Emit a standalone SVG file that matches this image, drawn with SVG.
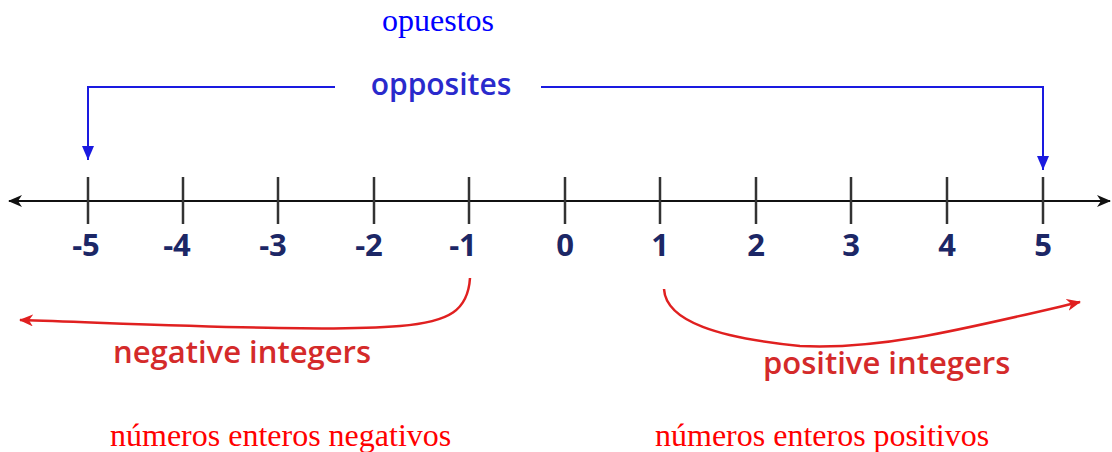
<svg xmlns="http://www.w3.org/2000/svg" width="1112" height="452" viewBox="0 0 1112 452">
<defs>
<marker id="ah" markerWidth="14" markerHeight="12" refX="13" refY="6" orient="auto-start-reverse" markerUnits="userSpaceOnUse"><path d="M0,0 L14,6 L0,12 L4,6 Z" fill="#111"/></marker>
<marker id="bh" markerWidth="14" markerHeight="14" refX="14" refY="6" orient="auto" markerUnits="userSpaceOnUse"><path d="M0,0 L14,6 L0,12 Z" fill="#1a1ae0"/></marker>
<marker id="rh" markerWidth="14" markerHeight="12" refX="13" refY="6" orient="auto" markerUnits="userSpaceOnUse"><path d="M0,0 L14,6 L0,12 L4,6 Z" fill="#e02020"/></marker>
</defs>
<style>
.tick{stroke:#333;stroke-width:2.5}
.num{font-family:"Open Sans",sans-serif;font-weight:bold;font-size:31px;fill:#1c2766;text-anchor:middle}
.en{font-family:"Open Sans",sans-serif;font-weight:600;fill:#d42a2a;font-size:31px}
.es{font-family:"Liberation Serif",serif;font-size:32px}
</style>
<rect width="1112" height="452" fill="#fff"/>
<g id="connectors">
<line x1="9" y1="201" x2="1110" y2="201" stroke="#111" stroke-width="2" marker-start="url(#ah)" marker-end="url(#ah)"/>
<polyline points="335,87 88,87 88,160" fill="none" stroke="#1a1ae0" stroke-width="2" marker-end="url(#bh)"/>
<polyline points="541,87 1043,87 1043,170" fill="none" stroke="#1a1ae0" stroke-width="2" marker-end="url(#bh)"/>
<path d="M470,278 C468,310 450,322 400,326 C330,332 200,326 20,320" fill="none" stroke="#e02020" stroke-width="2.5" marker-end="url(#rh)"/>
<path d="M664,289 C666,322 720,338 800,346 C880,350 960,330 1080,302" fill="none" stroke="#e02020" stroke-width="2.5" marker-end="url(#rh)"/>
</g>
<g id="ticks">
<line class="tick" x1="88" y1="177" x2="88" y2="224"/>
<line class="tick" x1="183" y1="177" x2="183" y2="224"/>
<line class="tick" x1="278" y1="177" x2="278" y2="224"/>
<line class="tick" x1="374" y1="177" x2="374" y2="224"/>
<line class="tick" x1="469" y1="177" x2="469" y2="224"/>
<line class="tick" x1="565" y1="177" x2="565" y2="224"/>
<line class="tick" x1="660" y1="177" x2="660" y2="224"/>
<line class="tick" x1="756" y1="177" x2="756" y2="224"/>
<line class="tick" x1="851" y1="177" x2="851" y2="224"/>
<line class="tick" x1="947" y1="177" x2="947" y2="224"/>
<line class="tick" x1="1043" y1="177" x2="1043" y2="224"/>
</g>
<g id="labels">
<text class="num" x="86" y="256">-5</text>
<text class="num" x="177" y="256">-4</text>
<text class="num" x="273" y="256">-3</text>
<text class="num" x="369" y="256">-2</text>
<text class="num" x="463" y="256">-1</text>
<text class="num" x="565" y="256">0</text>
<text class="num" x="660" y="256">1</text>
<text class="num" x="756" y="256">2</text>
<text class="num" x="851" y="256">3</text>
<text class="num" x="947" y="256">4</text>
<text class="num" x="1043" y="256">5</text>
</g>
<g id="opposites"><text x="441" y="95" text-anchor="middle" font-family="Open Sans, sans-serif" font-weight="600" font-size="30" fill="#2a2acc">opposites</text></g>
<g id="negative"><text class="en" x="113" y="363">negative integers</text></g>
<g id="positive"><text class="en" x="763" y="374">positive integers</text></g>
<g id="opuestos"><text class="es" x="382" y="31" fill="#0000ff">opuestos</text></g>
<g id="neg-es"><text class="es" x="110" y="446" fill="#ff0000">números enteros negativos</text></g>
<g id="pos-es"><text class="es" x="655" y="446" fill="#ff0000">números enteros positivos</text></g>
</svg>
